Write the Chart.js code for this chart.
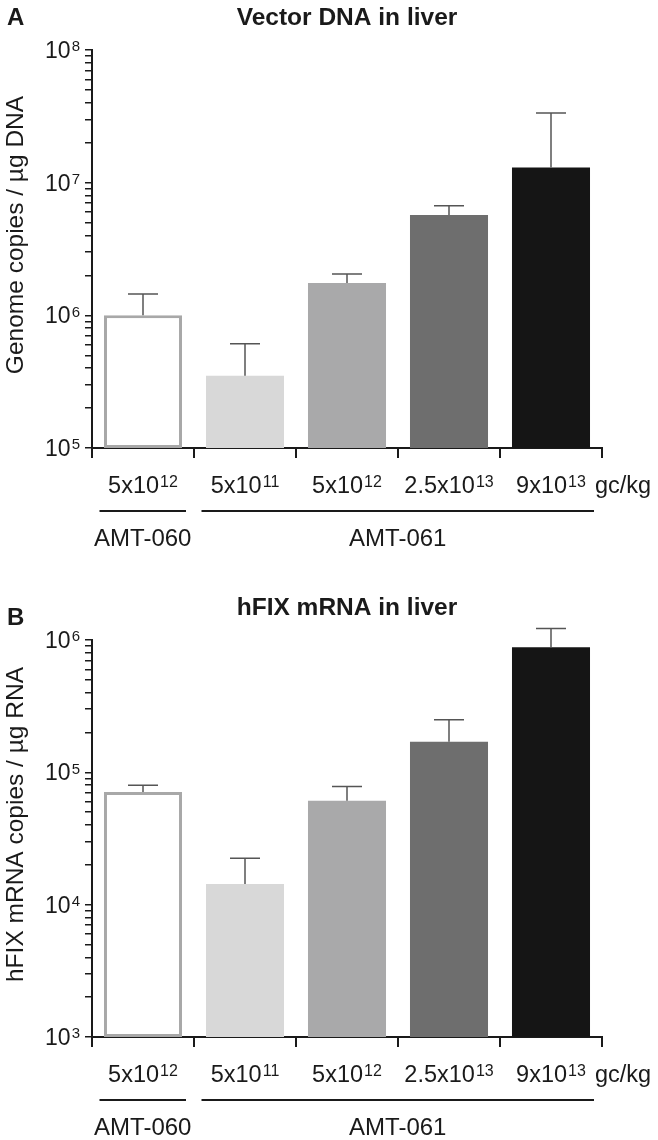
<!DOCTYPE html>
<html>
<head>
<meta charset="utf-8">
<script src="https://cdn.jsdelivr.net/npm/chart.js@4.4.1/dist/chart.umd.min.js"></script>
<style>
  html, body { margin: 0; padding: 0; background: #fff; }
  #wrap { width: 658px; height: 1140px; }
  canvas { display: block; }
</style>
</head>
<body>
<div id="wrap">
  <canvas id="chart-a" width="658" height="570"></canvas>
  <canvas id="chart-b" width="658" height="570"></canvas>
</div>
<script>
/* Shared categories */
const DOSE_BASE = ['5x10', '5x10', '5x10', '2.5x10', '9x10'];
const DOSE_EXP = ['12', '11', '12', '13', '13'];
const DOSE_UNIT = 'gc/kg';
const GROUP_NAMES = ['AMT-060', 'AMT-061'];
const GROUP_FIRST = [0, 1];
const GROUP_LAST = [0, 4];
const BAR_FILL = ['#ffffff', '#d8d8d8', '#a9a9aa', '#6e6e6e', '#151515'];
const BAR_EDGE = ['#a8a8a8', '#d8d8d8', '#a9a9aa', '#6e6e6e', '#151515'];
const BAR_EDGE_W = [3, 0, 0, 0, 0];

/* Panel A: vector DNA */
const DNA_MEAN = [1.0e6, 3.5e5, 1.75e6, 5.7e6, 1.3e7];
const DNA_SD = [4.5e5, 2.6e5, 3.0e5, 1.0e6, 2.05e7];
const DNA_DECADES = [5, 6, 7, 8];

/* Panel B: hFIX mRNA */
const RNA_MEAN = [7.1e4, 1.43e4, 6.1e4, 1.7e5, 8.8e5];
const RNA_SD = [9e3, 8.1e3, 1.7e4, 8e4, 3.4e5];
const RNA_DECADES = [3, 4, 5, 6];

const FONT = '"Liberation Sans", Arial, Helvetica, sans-serif';
const INK = '#1a1a1a';

function supText(ctx, base, exp, x, y, size, supSize, align) {
  ctx.font = size + 'px ' + FONT;
  const wb = ctx.measureText(base).width;
  ctx.font = supSize + 'px ' + FONT;
  const we = ctx.measureText(exp).width;
  const total = wb + 1 + we;
  let left = x;
  if (align === 'right') left = x - total;
  if (align === 'center') left = x - total / 2;
  ctx.textAlign = 'left';
  ctx.textBaseline = 'alphabetic';
  ctx.font = size + 'px ' + FONT;
  ctx.fillText(base, left, y);
  ctx.font = supSize + 'px ' + FONT;
  ctx.fillText(exp, left + wb + 1, y - 0.716 * (size - supSize) - 1);
}

const panelPlugin = {
  id: 'panel',
  afterDatasetsDraw(chart) {
    const ctx = chart.ctx;
    const y = chart.scales.y;
    const ds = chart.data.datasets[0];
    ctx.save();
    ctx.strokeStyle = '#555';
    ctx.lineWidth = 1.5;
    chart.getDatasetMeta(0).data.forEach(function (bar, i) {
      const top = y.getPixelForValue(ds.data[i] + ds.errorPlus[i]);
      ctx.beginPath();
      ctx.moveTo(bar.x, bar.y);
      ctx.lineTo(bar.x, top);
      ctx.moveTo(bar.x - 15, top);
      ctx.lineTo(bar.x + 15, top);
      ctx.stroke();
    });
    ctx.restore();
  },
  afterDraw(chart) {
    const ctx = chart.ctx;
    const area = chart.chartArea;
    const x = chart.scales.x;
    const y = chart.scales.y;
    const p = chart.config.options.panelInfo;
    ctx.save();
    ctx.fillStyle = INK;

    // panel letter + title
    ctx.font = 'bold 24px ' + FONT;
    ctx.textAlign = 'left';
    ctx.textBaseline = 'alphabetic';
    ctx.fillText(p.letter, 7, area.top - p.letterGap);
    ctx.font = 'bold 24.5px ' + FONT;
    ctx.textAlign = 'center';
    ctx.fillText(p.title, (area.left + area.right) / 2, area.top - 25);

    // y tick labels
    p.decades.forEach(function (e) {
      const py = y.getPixelForValue(Math.pow(10, e));
      supText(ctx, '10', String(e), 80, py + 8, 23, 15, 'right');
    });

    // y title
    ctx.save();
    ctx.translate(16, (area.top + area.bottom) / 2 - 14);
    ctx.rotate(-Math.PI / 2);
    ctx.font = '24.5px ' + FONT;
    ctx.textAlign = 'center';
    ctx.textBaseline = 'middle';
    ctx.fillText(p.yTitle, 0, 0);
    ctx.restore();

    // dose labels
    const base = area.bottom + 45;
    DOSE_BASE.forEach(function (b, i) {
      supText(ctx, b, DOSE_EXP[i], x.getPixelForValue(i), base, 23.5, 16, 'center');
    });
    ctx.font = '23.5px ' + FONT;
    ctx.textAlign = 'left';
    ctx.fillText(DOSE_UNIT, area.right - 7, base);

    // group brackets
    const half = (x.getPixelForValue(1) - x.getPixelForValue(0)) / 2;
    ctx.strokeStyle = INK;
    ctx.lineWidth = 2;
    GROUP_NAMES.forEach(function (name, g) {
      const x0 = x.getPixelForValue(GROUP_FIRST[g]) - half + 7.5;
      const x1 = x.getPixelForValue(GROUP_LAST[g]) + half - 8;
      ctx.beginPath();
      ctx.moveTo(x0, area.bottom + 63);
      ctx.lineTo(x1, area.bottom + 63);
      ctx.stroke();
      ctx.font = '24px ' + FONT;
      ctx.textAlign = 'center';
      ctx.fillText(name, (x0 + x1) / 2, area.bottom + 98);
    });
    ctx.restore();
  }
};

function makePanel(id, info, mean, sd, topPad, xHeight) {
  const minV = Math.pow(10, info.decades[0]);
  const maxV = Math.pow(10, info.decades[info.decades.length - 1]);
  return new Chart(document.getElementById(id), {
    type: 'bar',
    data: {
      labels: DOSE_BASE.map(function (b, i) { return b + DOSE_EXP[i]; }),
      datasets: [{
        data: mean,
        errorPlus: sd,
        backgroundColor: BAR_FILL,
        borderColor: BAR_EDGE,
        borderWidth: BAR_EDGE_W,
        borderSkipped: false,
        barPercentage: 0.765,
        categoryPercentage: 1
      }]
    },
    options: {
      responsive: false,
      animation: false,
      panelInfo: info,
      layout: { padding: { top: topPad, right: 56, left: 0, bottom: 0 } },
      plugins: { legend: { display: false }, tooltip: { enabled: false }, title: { display: false } },
      scales: {
        x: {
          type: 'category',
          offset: true,
          afterFit: function (s) { s.height = xHeight; },
          ticks: { display: false },
          grid: { offset: true, drawOnChartArea: false, tickLength: 10, color: INK, lineWidth: 2 },
          border: { color: INK, width: 2 }
        },
        y: {
          type: 'logarithmic',
          min: minV,
          max: maxV,
          afterFit: function (s) { s.width = 92; },
          afterBuildTicks: function (s) {
            const t = [];
            for (let e = info.decades[0]; e < info.decades[info.decades.length - 1]; e++) {
              for (let m = 1; m < 10; m++) t.push({ value: m * Math.pow(10, e) });
            }
            t.push({ value: maxV });
            s.ticks = t;
          },
          ticks: { display: false },
          grid: { drawOnChartArea: false, tickLength: 7, color: INK, lineWidth: 1.5 },
          border: { color: INK, width: 2 }
        }
      }
    },
    plugins: [panelPlugin]
  });
}

makePanel('chart-a', {
  letter: 'A', letterGap: 25, title: 'Vector DNA in liver',
  yTitle: 'Genome copies / \u00b5g DNA', decades: DNA_DECADES
}, DNA_MEAN, DNA_SD, 50, 122);

makePanel('chart-b', {
  letter: 'B', letterGap: 15, title: 'hFIX mRNA in liver',
  yTitle: 'hFIX mRNA copies / \u00b5g RNA', decades: RNA_DECADES
}, RNA_MEAN, RNA_SD, 70, 103);
</script>
</body>
</html>
